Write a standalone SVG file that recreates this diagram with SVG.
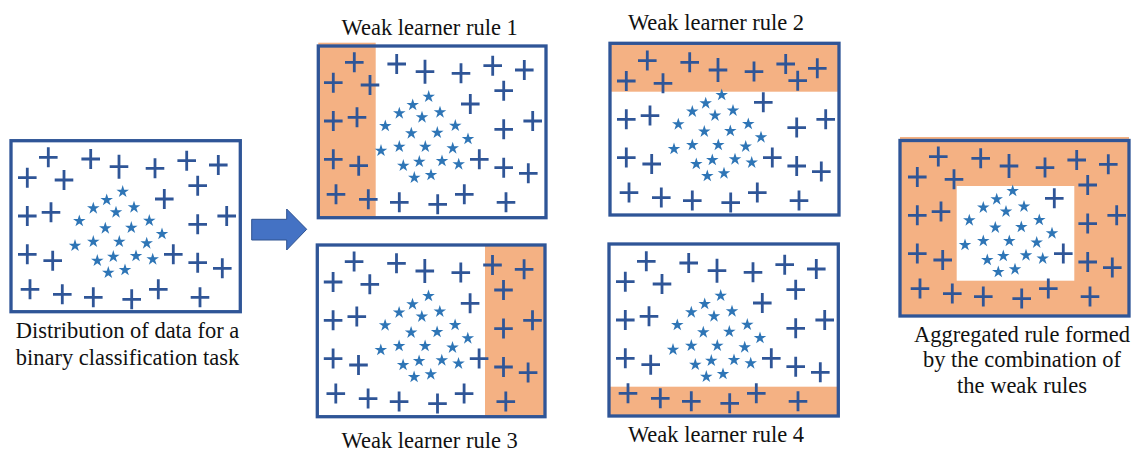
<svg xmlns="http://www.w3.org/2000/svg" xmlns:xlink="http://www.w3.org/1999/xlink" width="1141" height="455" viewBox="0 0 1141 455">
  <style>
    .frame { fill: none; stroke: #2F5597; stroke-width: 3.3; }
    .region { fill: #F4B183; }
    .hole { fill: #FFFFFF; }
    .plus { fill: none; stroke: #2F5597; stroke-width: 2.8; }
    .star { fill: #2E75B6; }
    .label { font-size: 22.5px; fill: #111111; text-anchor: middle; }
    .arrow { fill: #4472C4; stroke: #2F528F; stroke-width: 1; }
  </style>
  <defs>
    <path id="pl" class="plus" d="M-9.3,0 H9.3 M0,-10 V10"/>
    <path id="plt" class="plus" d="M-9.3,0 H9.3 M0,-12 V12"/>
    <path id="st" class="star" d="M0,-6.6 L1.47,-2.03 L6.28,-2.04 L2.38,0.77 L3.88,5.34 L0,2.5 L-3.88,5.34 L-2.38,0.77 L-6.28,-2.04 L-1.47,-2.03 Z"/>
    <!-- shared scatter of samples: "+" class around the border, stars in the middle -->
    <g id="samples">
      <use href="#pl" x="37.3" y="16.6"/>
      <use href="#pl" x="79.7" y="18.3"/>
      <use href="#plt" x="108" y="26"/>
      <use href="#pl" x="144" y="27.6"/>
      <use href="#pl" x="175.7" y="20"/>
      <use href="#pl" x="207.3" y="24.3"/>
      <use href="#pl" x="16.3" y="37"/>
      <use href="#pl" x="53" y="39.3"/>
      <use href="#pl" x="153.3" y="58.3"/>
      <use href="#pl" x="16.3" y="75.3"/>
      <use href="#pl" x="40" y="71.6"/>
      <use href="#pl" x="186.7" y="83.6"/>
      <use href="#pl" x="215.7" y="75.3"/>
      <use href="#pl" x="16.3" y="113.6"/>
      <use href="#pl" x="41.7" y="120"/>
      <use href="#pl" x="162.3" y="113.6"/>
      <use href="#pl" x="186.7" y="122"/>
      <use href="#pl" x="211.3" y="127.6"/>
      <use href="#pl" x="19" y="148.6"/>
      <use href="#pl" x="51.3" y="153.6"/>
      <use href="#pl" x="82.3" y="156.6"/>
      <use href="#pl" x="120.7" y="158.6"/>
      <use href="#pl" x="147.3" y="148.6"/>
      <use href="#pl" x="189" y="156.6"/>
      <use href="#st" x="111.7" y="51"/>
      <use href="#st" x="95.7" y="59.3"/>
      <use href="#st" x="82.3" y="67.6"/>
      <use href="#st" x="105" y="71.6"/>
      <use href="#st" x="123" y="66.6"/>
      <use href="#st" x="68.3" y="80.3"/>
      <use href="#st" x="94.3" y="87.6"/>
      <use href="#st" x="120.3" y="87"/>
      <use href="#st" x="138.3" y="80"/>
      <use href="#st" x="151" y="93.3"/>
      <use href="#st" x="64" y="105"/>
      <use href="#st" x="82.3" y="101"/>
      <use href="#st" x="108.3" y="101"/>
      <use href="#st" x="135.7" y="102.6"/>
      <use href="#st" x="86.3" y="120"/>
      <use href="#st" x="102.3" y="116"/>
      <use href="#st" x="125" y="115.3"/>
      <use href="#st" x="141.7" y="118.6"/>
      <use href="#st" x="97.3" y="132"/>
      <use href="#st" x="114" y="129.3"/>
    </g>
  </defs>

  <g id="data-distribution">
    <use href="#samples" transform="translate(11,140.7)"/>
    <use href="#pl" transform="translate(11,140.7)" x="186.7" y="45"/>
    <rect class="frame" x="11" y="140.7" width="229.3" height="171"/>
    <text class="label" font-family="'Liberation Serif', 'Times New Roman', 'DejaVu Serif', serif" x="127.5" y="338.3">Distribution of data for a</text>
    <text class="label" font-family="'Liberation Serif', 'Times New Roman', 'DejaVu Serif', serif" x="127.5" y="365">binary classification task</text>
  </g>

  <g id="weak-rule-1">
    <rect class="region" x="318.3" y="42.7" width="57.4" height="175"/>
    <use href="#samples" transform="translate(317,45.7)"/>
    <use href="#pl" transform="translate(317,45.7)" x="186.7" y="45"/>
    <rect class="frame" x="318.3" y="46" width="227.7" height="171.7"/>
    <text class="label" font-family="'Liberation Serif', 'Times New Roman', 'DejaVu Serif', serif" x="429.7" y="35">Weak learner rule 1</text>
  </g>

  <g id="weak-rule-2">
    <rect class="region" x="610" y="43.3" width="229" height="48.4"/>
    <use href="#samples" transform="translate(610,44)"/>
    <use href="#pl" transform="translate(610,44)" x="187.7" y="36.7"/>
    <rect class="frame" x="610" y="43.3" width="229" height="171.7"/>
    <text class="label" font-family="'Liberation Serif', 'Times New Roman', 'DejaVu Serif', serif" x="716" y="30">Weak learner rule 2</text>
  </g>

  <g id="weak-rule-3">
    <rect class="region" x="485" y="245" width="60" height="171.7"/>
    <use href="#samples" transform="translate(316.8,245)"/>
    <use href="#pl" transform="translate(316.8,245)" x="186.7" y="45"/>
    <rect class="frame" x="317.3" y="245" width="227.7" height="171.7"/>
    <text class="label" font-family="'Liberation Serif', 'Times New Roman', 'DejaVu Serif', serif" x="429.7" y="448.3">Weak learner rule 3</text>
  </g>

  <g id="weak-rule-4">
    <rect class="region" x="609" y="386.7" width="229.3" height="29.3"/>
    <use href="#samples" transform="translate(609,244.7)"/>
    <use href="#pl" transform="translate(609,244.7)" x="186.7" y="45"/>
    <rect class="frame" x="609" y="244" width="229.3" height="172"/>
    <text class="label" font-family="'Liberation Serif', 'Times New Roman', 'DejaVu Serif', serif" x="716" y="441.7">Weak learner rule 4</text>
  </g>

  <g id="aggregated-rule">
    <rect class="region" x="900" y="137" width="229" height="179"/>
    <rect class="hole" x="956.7" y="186" width="117.6" height="94.7"/>
    <use href="#samples" transform="translate(901,140)"/>
    <use href="#pl" transform="translate(901,140)" x="186.7" y="45"/>
    <rect class="frame" x="900" y="140.5" width="229" height="175.5"/>
    <text class="label" font-family="'Liberation Serif', 'Times New Roman', 'DejaVu Serif', serif" x="1022" y="341.7">Aggregated rule formed</text>
    <text class="label" font-family="'Liberation Serif', 'Times New Roman', 'DejaVu Serif', serif" x="1022" y="367.3">by the combination of</text>
    <text class="label" font-family="'Liberation Serif', 'Times New Roman', 'DejaVu Serif', serif" x="1022" y="393.3">the weak rules</text>
  </g>

  <g id="connectors">
    <polygon class="arrow" points="251.7,219.3 286.7,219.3 286.7,209 306.7,229.3 286.7,250 286.7,240 251.7,240"/>
  </g>
</svg>
